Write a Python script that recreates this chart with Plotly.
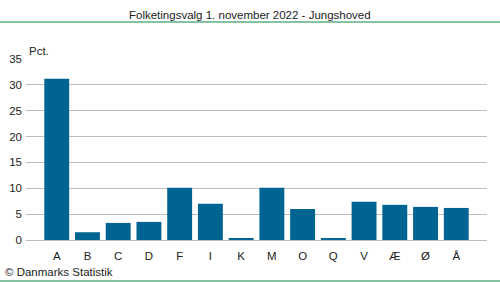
import plotly.graph_objects as go

categories = ["A", "B", "C", "D", "F", "I", "K", "M", "O", "Q", "V", "Æ", "Ø", "Å"]
values = [31.2, 1.5, 3.3, 3.5, 10.1, 7.0, 0.2, 10.1, 6.0, 0.2, 7.4, 6.8, 6.4, 6.2]
y_ticks = [0, 5, 10, 15, 20, 25, 30, 35]

W, H = 500, 282
ml, mr, mt, mb = 26, 13, 59, 42
pw, ph = W - ml - mr, H - mt - mb

def px_x(x):
    return (x - ml) / pw

def px_y(y):
    return (H - mb - y) / ph

font = "Liberation Sans, Arial, sans-serif"

fig = go.Figure(go.Bar(
    x=categories, y=values, marker_color="#006492", marker_line_width=0, width=0.81,
))

fig.update_layout(
    width=W, height=H,
    margin=dict(l=ml, r=mr, t=mt, b=mb),
    paper_bgcolor="white", plot_bgcolor="white",
    font=dict(family=font, size=11.5, color="#222222"),
    showlegend=False,
    xaxis=dict(range=[-1, 14], showgrid=False, showline=False, ticks="", automargin=False,
               ticklabelstandoff=7, tickfont=dict(size=11.5)),
    yaxis=dict(range=[0, 35], tickvals=y_ticks, showgrid=True, gridcolor="#bdbdc4", gridwidth=1,
               zeroline=True, zerolinecolor="#bdbdc4", zerolinewidth=1, ticks="", automargin=False,
               ticklabelstandoff=3, tickfont=dict(size=11.5)),
    shapes=[
        dict(type="line", xref="paper", yref="paper", x0=px_x(0), x1=px_x(W), y0=px_y(22), y1=px_y(22),
             line=dict(color="#0f8446", width=1)),
        dict(type="line", xref="paper", yref="paper", x0=px_x(0), x1=px_x(W), y0=px_y(281), y1=px_y(281),
             line=dict(color="#0f8446", width=1)),
    ],
    annotations=[
        dict(text="Folketingsvalg 1. november 2022 - Jungshoved", xref="paper", yref="paper",
             x=px_x(250), y=px_y(15), xanchor="center", yanchor="middle", showarrow=False,
             font=dict(size=11.5, color="#222222")),
        dict(text="Pct.", xref="paper", yref="paper", x=px_x(27), y=px_y(51),
             xanchor="left", yanchor="middle", showarrow=False, font=dict(size=11.5)),
        dict(text="© Danmarks Statistik", xref="paper", yref="paper", x=px_x(3), y=px_y(272),
             xanchor="left", yanchor="middle", showarrow=False, font=dict(size=11.5)),
    ],
)

fig.write_html("out.html")
